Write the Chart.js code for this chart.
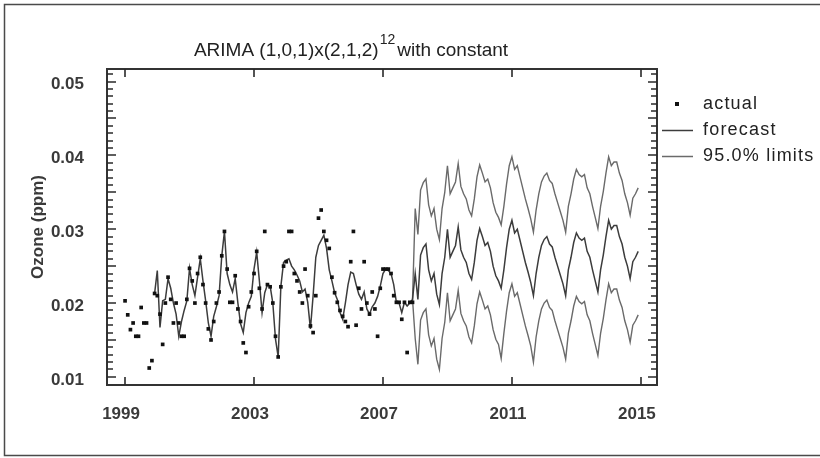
<!DOCTYPE html>
<html>
<head>
<meta charset="utf-8">
<script src="https://cdn.jsdelivr.net/npm/chart.js@4"></script>
<style>
  html, body { margin: 0; padding: 0; background: #fff; }
  canvas { display: block; }
</style>
</head>
<body>
<canvas id="ozoneChart" width="820" height="458"></canvas>
<script>
// Monthly series, first value = Jan 1999
const startYear = 1999;

// Observed ozone (ppm), Jan 1999 - Dec 2007
const actual = [
  0.0203, 0.0184, 0.0164, 0.0173, 0.0155, 0.0155, 0.0194, 0.0173, 0.0173, 0.0112, 0.0122, 0.0213,
  0.0210, 0.0185, 0.0144, 0.0200, 0.0235, 0.0205, 0.0173, 0.0200, 0.0173, 0.0155, 0.0155, 0.0205,
  0.0247, 0.0230, 0.0200, 0.0240, 0.0262, 0.0225, 0.0200, 0.0165, 0.0150, 0.0175, 0.0200, 0.0215,
  0.0264, 0.0297, 0.0246, 0.0201, 0.0201, 0.0237, 0.0192, 0.0175, 0.0146, 0.0133, 0.0195, 0.0215,
  0.0240, 0.0270, 0.0220, 0.0192, 0.0297, 0.0225, 0.0222, 0.0200, 0.0155, 0.0127, 0.0222, 0.0250,
  0.0256, 0.0297, 0.0297, 0.0240, 0.0230, 0.0215, 0.0200, 0.0246, 0.0210, 0.0169, 0.0160, 0.0210,
  0.0315, 0.0326, 0.0297, 0.0285, 0.0274, 0.0235, 0.0214, 0.0201, 0.0190, 0.0182, 0.0175, 0.0168,
  0.0256, 0.0297, 0.0170, 0.0220, 0.0192, 0.0256, 0.0200, 0.0185, 0.0215, 0.0192, 0.0155, 0.0220,
  0.0246, 0.0246, 0.0246, 0.0240, 0.0210, 0.0201, 0.0201, 0.0178, 0.0201, 0.0133, 0.0201, 0.0201
];

// One-step-ahead fitted values, Dec 1999 - Dec 2007
const fittedStart = 11;
const fitted = [
  0.0213,
  0.0244, 0.0167, 0.0203, 0.0205, 0.0233, 0.0220, 0.0200, 0.0185, 0.0155, 0.0175, 0.0190, 0.0203,
  0.0247, 0.0225, 0.0210, 0.0235, 0.0260, 0.0230, 0.0203, 0.0173, 0.0155, 0.0182, 0.0195, 0.0210,
  0.0264, 0.0297, 0.0240, 0.0225, 0.0215, 0.0233, 0.0200, 0.0172, 0.0160, 0.0187, 0.0200, 0.0209,
  0.0246, 0.0269, 0.0230, 0.0187, 0.0214, 0.0225, 0.0223, 0.0200, 0.0151, 0.0127, 0.0223, 0.0255,
  0.0258, 0.0260, 0.0250, 0.0245, 0.0238, 0.0230, 0.0215, 0.0219, 0.0201, 0.0165, 0.0210, 0.0262,
  0.0278, 0.0285, 0.0292, 0.0274, 0.0245, 0.0230, 0.0214, 0.0205, 0.0187, 0.0178, 0.0200, 0.0225,
  0.0242, 0.0240, 0.0225, 0.0212, 0.0205, 0.0215, 0.0192, 0.0185, 0.0195, 0.0200, 0.0209, 0.0223,
  0.0240, 0.0246, 0.0244, 0.0240, 0.0225, 0.0201, 0.0200, 0.0187, 0.0201, 0.0196, 0.0200, 0.0205
];

// Forecasts, Jan 2008 - Dec 2014
const forecastStart = 108;
const forecast = [
  0.0240, 0.0205, 0.0265, 0.0275, 0.0280, 0.0245, 0.0230, 0.0240, 0.0212, 0.0198, 0.0240, 0.0262,
  0.0300, 0.0262, 0.0270, 0.0278, 0.0303, 0.0272, 0.0262, 0.0255, 0.0240, 0.0232, 0.0255, 0.0285,
  0.0301, 0.0290, 0.0278, 0.0282, 0.0270, 0.0250, 0.0237, 0.0230, 0.0220, 0.0245, 0.0275, 0.0300,
  0.0312, 0.0295, 0.0300, 0.0285, 0.0270, 0.0255, 0.0242, 0.0228, 0.0210, 0.0240, 0.0262, 0.0278,
  0.0286, 0.0290, 0.0280, 0.0276, 0.0262, 0.0250, 0.0238, 0.0226, 0.0210, 0.0245, 0.0262, 0.0282,
  0.0295, 0.0288, 0.0285, 0.0288, 0.0270, 0.0262, 0.0245, 0.0230, 0.0215, 0.0245, 0.0265, 0.0290,
  0.0312, 0.0300, 0.0305, 0.0305, 0.0290, 0.0280, 0.0262, 0.0250, 0.0233, 0.0256, 0.0262, 0.0270
];

// 95% limits, Dec 2007 (joins the fit) - Dec 2014
const limitsStart = 107;
const upper = [
  0.0205,
  0.0328, 0.0293, 0.0353, 0.0363, 0.0368, 0.0333, 0.0318, 0.0328, 0.0300, 0.0286, 0.0328, 0.0350,
  0.0386, 0.0348, 0.0356, 0.0364, 0.0389, 0.0358, 0.0348, 0.0341, 0.0326, 0.0318, 0.0341, 0.0371,
  0.0387, 0.0376, 0.0364, 0.0368, 0.0356, 0.0336, 0.0323, 0.0316, 0.0306, 0.0331, 0.0361, 0.0386,
  0.0398, 0.0381, 0.0386, 0.0371, 0.0356, 0.0341, 0.0328, 0.0314, 0.0296, 0.0326, 0.0348, 0.0364,
  0.0372, 0.0376, 0.0366, 0.0362, 0.0348, 0.0336, 0.0324, 0.0312, 0.0296, 0.0331, 0.0348, 0.0368,
  0.0381, 0.0374, 0.0371, 0.0374, 0.0356, 0.0348, 0.0331, 0.0316, 0.0301, 0.0331, 0.0351, 0.0376,
  0.0398, 0.0386, 0.0391, 0.0391, 0.0376, 0.0366, 0.0348, 0.0336, 0.0319, 0.0342, 0.0348, 0.0356
];
const lower = [
  0.0205,
  0.0152, 0.0117, 0.0177, 0.0187, 0.0192, 0.0157, 0.0142, 0.0152, 0.0124, 0.0110, 0.0152, 0.0174,
  0.0214, 0.0176, 0.0184, 0.0192, 0.0217, 0.0186, 0.0176, 0.0169, 0.0154, 0.0146, 0.0169, 0.0199,
  0.0215, 0.0204, 0.0192, 0.0196, 0.0184, 0.0164, 0.0151, 0.0144, 0.0125, 0.0159, 0.0189, 0.0214,
  0.0226, 0.0209, 0.0214, 0.0199, 0.0184, 0.0169, 0.0156, 0.0142, 0.0120, 0.0154, 0.0176, 0.0192,
  0.0200, 0.0204, 0.0194, 0.0190, 0.0176, 0.0164, 0.0152, 0.0140, 0.0124, 0.0159, 0.0176, 0.0196,
  0.0209, 0.0202, 0.0199, 0.0202, 0.0184, 0.0176, 0.0159, 0.0144, 0.0129, 0.0159, 0.0179, 0.0204,
  0.0226, 0.0214, 0.0219, 0.0219, 0.0204, 0.0194, 0.0176, 0.0164, 0.0147, 0.0170, 0.0176, 0.0184
];

// Axis ticks
const xTicks = [1999, 2003, 2007, 2011, 2015];
const yTicks = [0.01, 0.02, 0.03, 0.04, 0.05];

const titleMain = 'ARIMA (1,0,1)x(2,1,2)';
const titleSup = '12';
const titleTail = 'with constant';

const FONT = '"Liberation Sans", Arial, sans-serif';
const forecastColor = '#3c3c3c';
const limitColor = '#6a6a6a';

// month index -> decimal year
function toPoints(values, offset) {
  return values.map((v, i) => ({ x: startYear + (offset + i) / 12, y: v }));
}

// Page frame, plot box, inward ticks, title and legend
const decorations = {
  id: 'decorations',
  beforeDraw(chart) {
    const ctx = chart.ctx;
    ctx.save();
    ctx.fillStyle = '#fff';
    ctx.fillRect(0, 0, chart.width, chart.height);
    ctx.restore();
  },
  afterDraw(chart) {
    const ctx = chart.ctx;
    const area = chart.chartArea;
    const xs = chart.scales.x;
    const ys = chart.scales.y;
    ctx.save();

    // outer frame
    ctx.strokeStyle = '#4a4a4a';
    ctx.lineWidth = 1.5;
    ctx.beginPath();
    ctx.moveTo(chart.width, 4.5);
    ctx.lineTo(4.5, 4.5);
    ctx.lineTo(4.5, 455.5);
    ctx.lineTo(chart.width, 455.5);
    ctx.stroke();

    // plot box
    ctx.strokeStyle = '#333';
    ctx.lineWidth = 2;
    ctx.strokeRect(area.left, area.top, area.right - area.left, area.bottom - area.top);

    // inward ticks: every 0.001 on y, longer every 0.005
    ctx.strokeStyle = '#2a2a2a';
    ctx.lineWidth = 1.6;
    ctx.beginPath();
    for (let i = 9; i <= 51; i++) {
      const y = Math.round(ys.getPixelForValue(i / 1000));
      if (y < area.top + 2 || y > area.bottom - 2) continue;
      const len = i % 5 === 0 ? 9 : 6;
      ctx.moveTo(area.left, y); ctx.lineTo(area.left + len, y);
      ctx.moveTo(area.right, y); ctx.lineTo(area.right - len, y);
    }
    xTicks.forEach(v => {
      const x = Math.round(xs.getPixelForValue(v));
      ctx.moveTo(x, area.top); ctx.lineTo(x, area.top + 8);
      ctx.moveTo(x, area.bottom); ctx.lineTo(x, area.bottom - 8);
    });
    ctx.stroke();

    // title with superscript
    ctx.fillStyle = '#222';
    ctx.textBaseline = 'alphabetic';
    ctx.font = '19px ' + FONT;
    const w1 = ctx.measureText(titleMain).width;
    const w3 = ctx.measureText(titleTail).width;
    ctx.font = '14px ' + FONT;
    const w2 = ctx.measureText(titleSup).width;
    let tx = 351 - (w1 + w2 + w3 + 3) / 2;
    ctx.font = '19px ' + FONT;
    ctx.fillText(titleMain, tx, 56);
    tx += w1 + 1;
    ctx.font = '14px ' + FONT;
    ctx.fillText(titleSup, tx, 44);
    tx += w2 + 2;
    ctx.font = '19px ' + FONT;
    ctx.fillText(titleTail, tx, 56);

    // legend
    const lx = area.right + 5;
    const textX = area.right + 46;
    ctx.font = '18px ' + FONT;
    ctx.letterSpacing = '1.2px';
    ctx.textBaseline = 'middle';
    chart.data.datasets.forEach((ds, i) => {
      if (!ds.legendLabel) return;
      const y = 104 + i * 26;
      if (ds.showLine === false) {
        ctx.fillStyle = ds.backgroundColor;
        ctx.fillRect(lx + 13, y - 2, 4, 4);
      } else {
        ctx.strokeStyle = ds.borderColor;
        ctx.lineWidth = 1.5;
        ctx.beginPath();
        ctx.moveTo(lx, y + 0.5);
        ctx.lineTo(lx + 31, y + 0.5);
        ctx.stroke();
      }
      ctx.fillStyle = '#222';
      ctx.fillText(ds.legendLabel, textX, y);
    });
    ctx.restore();
  }
};

const ctx = document.getElementById('ozoneChart').getContext('2d');
new Chart(ctx, {
  type: 'line',
  data: {
    datasets: [
      {
        legendLabel: 'actual',
        data: toPoints(actual, 0),
        showLine: false,
        pointStyle: 'rect',
        pointRadius: 2.6,
        pointBorderWidth: 0,
        backgroundColor: '#111',
        borderColor: '#111'
      },
      {
        legendLabel: 'forecast',
        data: toPoints(fitted, fittedStart).concat(toPoints(forecast, forecastStart)),
        borderColor: forecastColor,
        borderWidth: 1.5,
        pointRadius: 0,
        tension: 0,
        fill: false
      },
      {
        legendLabel: '95.0% limits',
        data: toPoints(upper, limitsStart),
        borderColor: limitColor,
        borderWidth: 1.4,
        pointRadius: 0,
        tension: 0,
        fill: false
      },
      {
        data: toPoints(lower, limitsStart),
        borderColor: limitColor,
        borderWidth: 1.4,
        pointRadius: 0,
        tension: 0,
        fill: false
      }
    ]
  },
  options: {
    responsive: false,
    animation: false,
    devicePixelRatio: 1,
    layout: { padding: { top: 69, right: 163, left: 0, bottom: 0 } },
    plugins: {
      legend: { display: false },
      title: { display: false },
      tooltip: { enabled: false }
    },
    scales: {
      x: {
        type: 'linear',
        min: 1998.44,
        max: 2015.5,
        grid: { display: false },
        border: { display: false },
        afterBuildTicks: s => { s.ticks = xTicks.map(v => ({ value: v })); },
        afterFit: s => { s.height = 73; },
        ticks: {
          autoSkip: false,
          maxRotation: 0,
          padding: 11,
          labelOffset: -4,
          color: '#3a3a3a',
          font: { family: FONT, size: 17, weight: 'bold' },
          callback: v => String(v)
        }
      },
      y: {
        type: 'linear',
        min: 0.0089,
        max: 0.0517,
        grid: { display: false },
        border: { display: false },
        afterBuildTicks: s => { s.ticks = yTicks.map(v => ({ value: v })); },
        afterFit: s => { s.width = 107; },
        title: {
          display: true,
          text: 'Ozone (ppm)',
          color: '#3a3a3a',
          font: { family: FONT, size: 17, weight: 'bold' },
          padding: { top: 28, bottom: 0 }
        },
        ticks: {
          padding: 15,
          labelOffset: 3,
          color: '#3a3a3a',
          font: { family: FONT, size: 17, weight: 'bold' },
          callback: v => v.toFixed(2)
        }
      }
    }
  },
  plugins: [decorations]
});
</script>
</body>
</html>
